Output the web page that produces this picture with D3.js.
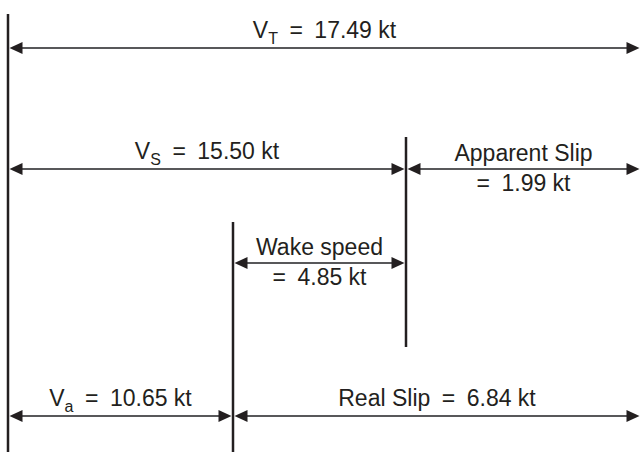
<!DOCTYPE html>
<html>
<head>
<meta charset="utf-8">
<script src="https://cdn.jsdelivr.net/npm/d3@7"></script>
<style>
	body { margin: 0; background: #fff; }
	svg { display: block; }
	text { font-family: 'Liberation Sans', Arial, sans-serif; font-size: 23px; fill: #231f20; }
</style>
</head>
<body>
<script>
// speeds in knots
const points = ['origin', 'Va', 'Vs', 'VT'];
const pointValues = [0, 10.65, 15.50, 17.49];

// dimension arrows: [from, to, row]
const segNames = ['VT', 'Vs', 'Apparent Slip', 'Wake speed', 'Va', 'Real Slip'];
const segValues = [17.49, 15.50, 1.99, 4.85, 10.65, 6.84];
const segFrom = ['origin', 'origin', 'Vs', 'Va', 'origin', 'Va'];
const segTo = ['VT', 'Vs', 'VT', 'Vs', 'Va', 'VT'];
const segRow = ['total', 'ship', 'ship', 'wake', 'advance', 'advance'];
// symbol + subscript, or a two-line text label
const segSub = ['T', 'S', null, null, 'a', null];
const segTwoLine = [false, false, true, true, false, false];

// extension lines (vertical bars)
const barPoints = ['origin', 'Vs', 'Va'];
const barTop = ['top', 'shipTop', 'wakeTop'];
const barBottom = ['bottom', 'shipBottom', 'bottom'];

const width = 642, height = 452;

const value = d3.scaleOrdinal().domain(points).range(pointValues);
// diagram is schematic, not to scale: piecewise mapping of the speed points
const x = d3.scaleLinear().domain(pointValues).range([8, 233, 406, 641]);
const y = d3.scaleOrdinal()
	.domain(['top', 'total', 'shipTop', 'ship', 'wakeTop', 'wake', 'shipBottom', 'advance', 'bottom'])
	.range([14, 48, 137, 169, 222, 263, 347, 416, 452]);

const svg = d3.select('body').append('svg')
	.attr('width', width)
	.attr('height', height);

const segs = segNames.map((name, i) => ({
	name, value: segValues[i],
	x0: x(value(segFrom[i])), x1: x(value(segTo[i])),
	y: y(segRow[i]), sub: segSub[i], twoLine: segTwoLine[i]
}));

svg.selectAll('line.bar')
	.data(barPoints.map((p, i) => ({ x: x(value(p)), y0: y(barTop[i]), y1: y(barBottom[i]) })))
	.join('line')
	.attr('class', 'bar')
	.attr('x1', d => d.x).attr('x2', d => d.x)
	.attr('y1', d => d.y0).attr('y2', d => d.y1)
	.attr('stroke', '#231f20')
	.attr('stroke-width', 2.5);

const gap = 1.5, headLen = 13, headHalf = 6;
svg.selectAll('line.dim')
	.data(segs)
	.join('line')
	.attr('class', 'dim')
	.attr('x1', d => d.x0 + gap + 4).attr('x2', d => d.x1 - gap - 4)
	.attr('y1', d => d.y).attr('y2', d => d.y)
	.attr('stroke', '#58585a')
	.attr('stroke-width', 2);

// arrowheads at both ends
const heads = segs.flatMap(d => [
	{ tip: d.x0 + gap, dir: 1, y: d.y },
	{ tip: d.x1 - gap, dir: -1, y: d.y }
]);
svg.selectAll('path.head')
	.data(heads)
	.join('path')
	.attr('class', 'head')
	.attr('d', d => `M${d.tip},${d.y}L${d.tip + d.dir * headLen},${d.y - headHalf}L${d.tip + d.dir * headLen},${d.y + headHalf}Z`)
	.attr('fill', '#231f20');

const fmt = d3.format('.2f');
const eq = '\u2002=\u2002'; // wide spacing round the equals sign, as in the figure
const labels = svg.selectAll('g.label')
	.data(segs)
	.join('g')
	.attr('class', 'label')
	.attr('transform', d => `translate(${(d.x0 + d.x1) / 2},${d.y})`);

labels.each(function (d) {
	const g = d3.select(this);
	if (d.twoLine) {
		g.append('text').attr('text-anchor', 'middle').attr('y', -8).text(d.name);
		g.append('text').attr('text-anchor', 'middle').attr('y', 22).text(`=\u2002${fmt(d.value)} kt`);
	} else if (d.sub) {
		const t = g.append('text').attr('text-anchor', 'middle').attr('y', -10);
		t.append('tspan').text('V');
		t.append('tspan').attr('font-size', 16).attr('dy', 6).text(d.sub);
		t.append('tspan').attr('dy', -6).text(`${eq}${fmt(d.value)} kt`);
	} else {
		g.append('text').attr('text-anchor', 'middle').attr('y', -10).text(`${d.name}${eq}${fmt(d.value)} kt`);
	}
});
</script>
</body>
</html>
